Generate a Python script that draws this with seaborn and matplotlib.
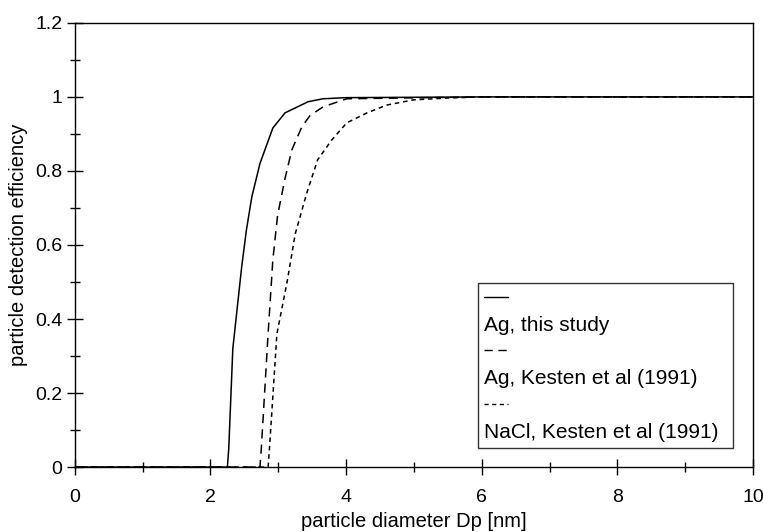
import numpy as np
import pandas as pd
import matplotlib
matplotlib.use("Agg")
import matplotlib.pyplot as plt
from matplotlib.ticker import MultipleLocator, FuncFormatter
from matplotlib.lines import Line2D
import seaborn as sns

# --- data ---
ag_this_x = [0.0, 2.25, 2.27, 2.33, 2.46, 2.53, 2.61, 2.73, 2.92, 3.10, 3.44, 3.66, 4.0, 6.0, 10.0]
ag_this_y = [0.0, 0.0, 0.05, 0.32, 0.54, 0.64, 0.73, 0.82, 0.916, 0.957, 0.987, 0.995, 0.998, 1.0, 1.0]

ag_kesten_x = [0.0, 2.73, 2.75, 2.85, 2.92, 2.99, 3.10, 3.20, 3.35, 3.47, 3.66, 4.01, 6.0, 10.0]
ag_kesten_y = [0.0, 0.0, 0.05, 0.36, 0.56, 0.68, 0.78, 0.857, 0.92, 0.95, 0.973, 0.995, 1.0, 1.0]

nacl_kesten_x = [0.0, 2.85, 2.87, 2.98, 3.13, 3.25, 3.42, 3.58, 3.79, 4.01, 4.31, 4.60, 4.99, 5.49, 6.0, 10.0]
nacl_kesten_y = [0.0, 0.0, 0.05, 0.36, 0.50, 0.63, 0.74, 0.83, 0.884, 0.93, 0.957, 0.978, 0.992, 0.997, 1.0, 1.0]

series_names = ["Ag, this study", "Ag, Kesten et al (1991)", "NaCl, Kesten et al (1991)"]
x_ticks = [0, 2, 4, 6, 8, 10]
y_ticks = [0, 0.2, 0.4, 0.6, 0.8, 1.0, 1.2]

df = pd.concat([
    pd.DataFrame({"Dp": ag_this_x, "eff": ag_this_y, "series": series_names[0]}),
    pd.DataFrame({"Dp": ag_kesten_x, "eff": ag_kesten_y, "series": series_names[1]}),
    pd.DataFrame({"Dp": nacl_kesten_x, "eff": nacl_kesten_y, "series": series_names[2]}),
], ignore_index=True)

sns.set_style("white")
plt.rcParams["font.family"] = ["Liberation Sans", "DejaVu Sans"]
plt.rcParams["text.color"] = "black"
plt.rcParams["axes.labelcolor"] = "black"
plt.rcParams["xtick.color"] = "black"
plt.rcParams["ytick.color"] = "black"

fig = plt.figure(figsize=(7.63, 5.32), dpi=100)
ax = fig.add_axes([0.098, 0.122, 0.889, 0.835])

dash_map = {
    series_names[0]: "",
    series_names[1]: (6, 4),
    series_names[2]: (3, 2.5),
}
sns.lineplot(data=df, x="Dp", y="eff", style="series", dashes=dash_map,
             color="black", linewidth=1.1, sort=False, estimator=None,
             legend=False, ax=ax)

ax.set_xlim(0, 10)
ax.set_ylim(0, 1.2)
ax.set_xticks(x_ticks)
ax.set_yticks(y_ticks)
ax.xaxis.set_minor_locator(MultipleLocator(1))
ax.yaxis.set_minor_locator(MultipleLocator(0.1))
ax.yaxis.set_major_formatter(FuncFormatter(lambda v, p: ("%g" % round(v, 2))))

for s in ax.spines.values():
    s.set_color("black")
    s.set_linewidth(1.0)

FS = 14
ax.tick_params(axis="both", which="both", bottom=True, left=True, top=False, right=False)
ax.tick_params(axis="both", which="major", direction="inout", length=12, width=1.0,
               color="black", labelsize=FS, labelcolor="black")
ax.tick_params(axis="both", which="minor", direction="inout", length=7, width=1.0,
               color="black")
ax.tick_params(axis="x", which="major", pad=10)
ax.tick_params(axis="y", which="major", pad=3)

ax.set_xlabel("particle diameter Dp [nm]", fontsize=14.5, labelpad=4, color="black")
ax.set_ylabel("particle detection efficiency", fontsize=14.5, labelpad=5, color="black")

# Legend: line sample on its own row above each label
handles = []
labels = []
styles = ["-", (0, (6, 4)), (0, (3, 2.5))]
for name, ls in zip(series_names, styles):
    handles.append(Line2D([], [], color="black", linestyle=ls, linewidth=1.0))
    labels.append(" ")
    handles.append(Line2D([], [], color="none"))
    labels.append(name)

hl = 1.15
leg = ax.legend(handles, labels, loc="lower left",
                bbox_to_anchor=(0.594, 0.043, 0.376, 0.37), mode="expand",
                borderaxespad=0, frameon=True, fancybox=False, shadow=False,
                handlelength=hl, handletextpad=-hl, fontsize=15,
                labelspacing=0.37, borderpad=0.3, labelcolor="black")
leg.get_frame().set_edgecolor("black")
leg.get_frame().set_linewidth(1.0)

fig.savefig("out.png", dpi=100)
